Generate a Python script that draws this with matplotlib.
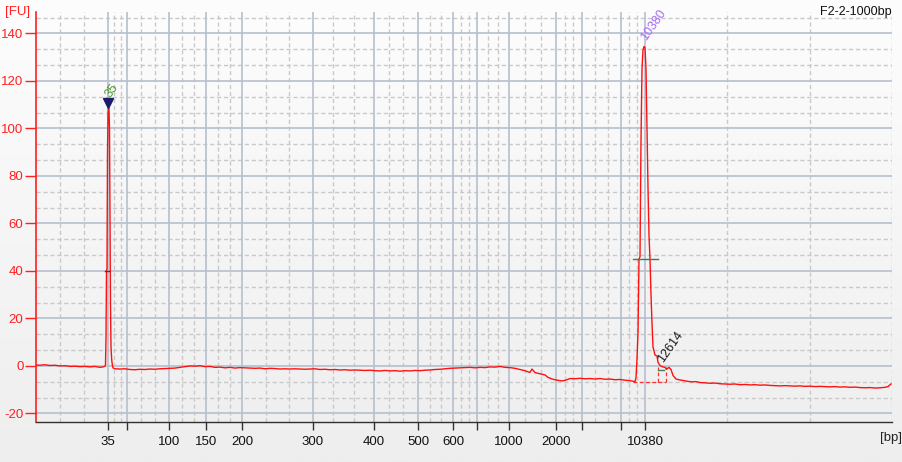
import numpy as np
import matplotlib
matplotlib.use("Agg")
import matplotlib.pyplot as plt
from matplotlib.colors import LinearSegmentedColormap

# ---------------- data ----------------
# ladder sizes (bp) and their migration positions (time units)
ladder_bp = [35, 50, 100, 150, 200, 300, 400, 500, 600, 700, 1000, 2000, 3000, 7000, 10380]
ladder_pos = [72, 91, 133.5, 170.5, 206.5, 277, 338, 382, 417, 441, 473, 520.5, 546, 585, 609]
ladder_labels = ["35", "", "100", "150", "200", "300", "400", "500", "600", "", "1000", "2000", "", "", "10380"]

# electropherogram trace: migration time units vs fluorescence [FU]
trace_t = [0, 4, 9, 14, 19, 24, 29, 34, 39, 44, 49, 54, 59, 64, 67, 69,
           69.5, 70, 70.5, 71, 71.5, 72, 72.5, 73, 73.5, 74, 74.5, 75, 75.7, 76.5, 77,
           79, 84, 89, 94, 99, 104, 109, 114, 119, 124, 129, 134, 139, 144, 149, 154,
           159, 164, 169, 174, 179, 184, 189, 194, 199, 204, 209, 214, 219, 224, 229,
           234, 239, 244, 249, 254, 259, 264, 269, 274, 279, 284, 289, 294, 299, 304,
           309, 314, 319, 324, 329, 334, 339, 344, 349, 354, 359, 364, 369, 374, 379,
           384, 389, 394, 399, 404, 409, 414, 419, 424, 429, 434, 439, 444, 449, 454,
           459, 464, 469, 474, 479, 484, 489, 492, 494, 496, 499, 504, 509, 512, 516,
           521, 526, 529, 534, 539, 544, 549, 554, 559, 564, 569, 574, 579, 584, 589,
           594, 598,
           599, 600, 601, 602, 603, 604, 605, 606, 607, 608, 609, 610, 611, 612, 613,
           614, 615, 616, 617, 619, 621, 622, 624, 626, 629, 630.5, 632, 633, 635, 637,
           640, 644, 648, 652, 656, 660, 664, 669, 674, 679, 684, 689, 694, 699, 704,
           709, 714, 719, 724, 729, 734, 739, 744, 749, 754, 759, 764, 769, 774, 779,
           784, 789, 794, 799, 804, 809, 814, 819, 824, 829, 834, 839, 844, 849, 852, 855]
trace_fu = [0.4, 0.3, 0.5, 0.2, 0.3, 0.0, 0.1, -0.2, -0.1, -0.3, -0.2, -0.4, -0.2, -0.6, -0.4, -0.1,
            0.5, 12, 40, 41, 90, 106, 108.6, 108, 100, 60, 25, 8, 2.5, 0, -0.8,
            -1.2, -1.3, -1.2, -1.5, -1.6, -1.4, -1.5, -1.3, -1.4, -1.2, -1.1, -1.0, -0.9, -0.6, -0.3, 0.0,
            -0.1, 0.1, -0.3, -0.2, -0.6, -0.5, -0.8, -0.6, -0.9, -0.7, -0.8, -0.9, -1.0, -0.9, -1.2,
            -1.0, -1.1, -1.3, -1.2, -1.3, -1.2, -1.3, -1.4, -1.3, -1.2, -1.5, -1.4, -1.6, -1.5, -1.7,
            -1.6, -1.8, -1.7, -1.8, -1.9, -1.8, -2.0, -2.1, -1.9, -2.1, -2.0, -2.2, -2.0, -2.1, -1.9,
            -2.0, -1.8, -1.7, -1.5, -1.4, -1.2, -1.0, -0.9, -0.8, -0.7, -0.6, -0.8, -0.6, -0.7, -0.4,
            -0.5, -0.2, -0.6, -0.7, -1.0, -1.5, -2.0, -2.5, -2.7, -1.3, -2.8, -3.3, -3.8, -4.8, -5.5,
            -6.0, -6.3, -6.1, -5.3, -5.4, -5.2, -5.4, -5.3, -5.5, -5.3, -5.6, -5.5, -5.8, -5.7, -6.0,
            -6.2, -6.5,
            -6.6, -5.0, 3, 14, 45, 46, 95, 125, 133, 134.5, 134, 125, 100, 75, 55,
            45, 30, 18, 8, 4.6, 4.2, 1.5, 0.2, -0.3, -0.6, -1.4, -0.9, -0.6, -1.5, -4.0,
            -5.5, -5.9, -6.2, -6.5, -6.7, -6.6, -7.0, -7.1, -7.3, -7.2, -7.5, -7.6, -7.7, -7.6, -7.9,
            -7.8, -8.0, -7.9, -8.1, -8.0, -8.2, -8.3, -8.4, -8.3, -8.4, -8.5, -8.4, -8.6, -8.5, -8.7,
            -8.6, -8.7, -8.8, -8.7, -8.9, -8.8, -9.0, -8.9, -9.1, -9.2, -9.1, -9.3, -9.2, -9.0, -8.7, -7.6]

# peak annotations
peak_labels = ["35", "10380", "12614"]
peak_label_t = [77, 613, 630]
peak_label_fu = [112, 136, 0.5]
peak_label_colors = ["#4a9a2a", "#a36cf5", "#1a1a1a"]

marker_t = 72
marker_fu = 110.6

sample_name = "F2-2-1000bp"

# ---------------- figure ----------------
W, H = 903, 462
fig = plt.figure(figsize=(W / 100, H / 100), dpi=100)
plt.rcParams['font.family'] = ['Liberation Sans', 'DejaVu Sans']

# gradient background
bg = fig.add_axes([0, 0, 1, 1], zorder=-10)
cmap = LinearSegmentedColormap.from_list("bgc", ["#fdfdfd", "#eeeeee"])
grad = np.linspace(0, 1, 256).reshape(-1, 1)
bg.imshow(grad, aspect='auto', cmap=cmap, extent=[0, 1, 0, 1])
bg.set_axis_off()

ax = fig.add_axes([36 / W, 1 - 422 / H, (892 - 36) / W, (422 - 12) / H])
ax.set_facecolor('none')
xmin, xmax = 0, 856
ymin, ymax = -23.6, 149.0
ax.set_xlim(xmin, xmax)
ax.set_ylim(ymin, ymax)

# grid: solid at ladder / 20 FU, dashed at thirds in between
major_col = '#b7bfcf'
minor_col = '#c9c9c9'
bounds = [xmin] + list(ladder_pos) + [xmax]
for a, b in zip(bounds[:-1], bounds[1:]):
    for k in (1, 2):
        ax.axvline(a + (b - a) * k / 3, color=minor_col, lw=1.0, ls=(0, (3, 2)), zorder=1)
ax.axvline(xmax, color=minor_col, lw=1.0, ls=(0, (3, 2)), zorder=1)
for p in ladder_pos:
    ax.axvline(p, color=major_col, lw=1.2, zorder=1.5)
ymaj = list(range(-20, 141, 20))
for yv in np.arange(-20, 150, 20 / 3):
    if min(abs(yv - m) for m in ymaj) > 0.5:
        ax.axhline(yv, color=minor_col, lw=1.0, ls=(0, (3, 2)), zorder=1)
for yv in ymaj:
    ax.axhline(yv, color=major_col, lw=1.2, zorder=1.5)

# trace
ax.plot(trace_t, trace_fu, color='#ff1010', lw=1.0, zorder=5)

# integration baseline for upper marker region
ax.plot([597, 630.5], [-6.6, -6.6], color='#ff3030', lw=0.9, ls=(0, (3, 2)), zorder=4)
ax.plot([622, 622], [-6.6, -0.4], color='#ff3030', lw=0.9, ls=(0, (3, 2)), zorder=4)
ax.plot([630, 630], [-6.6, -0.4], color='#ff3030', lw=0.9, ls=(0, (3, 2)), zorder=4)
# half-height markers
ax.plot([597, 622], [45, 45], color='#3b7d5c', lw=1.0, zorder=6)
ax.plot([622.5, 628.5], [-1.5, -1.5], color='#3b7d5c', lw=1.0, zorder=6)
ax.plot([69, 73], [40, 40], color='#404040', lw=1.0, zorder=6)

# lower marker triangle
ax.plot([marker_t], [marker_fu], marker='v', color='#1c1c6a', ms=7, zorder=7, ls='none')

for lab, tx, fy, c in zip(peak_labels, peak_label_t, peak_label_fu, peak_label_colors):
    ax.text(tx, fy, lab, color=c, fontsize=9, rotation=55, rotation_mode='anchor',
            ha='left', va='bottom', zorder=8)

# axes styling
for s in ('top', 'right'):
    ax.spines[s].set_visible(False)
ax.spines['left'].set_color('#ff2020')
ax.spines['left'].set_linewidth(1.2)
ax.spines['bottom'].set_color('#303030')
ax.spines['bottom'].set_linewidth(1.0)
ax.spines['left'].set_zorder(9)
ax.spines['bottom'].set_zorder(9)

ax.set_yticks(ymaj)
ax.set_yticklabels([str(v) for v in ymaj])
ax.tick_params(axis='y', colors='#ff2020', labelcolor='#ff2020', length=8, width=1.0,
               labelsize=9.5, pad=1)
ax.set_xticks(ladder_pos)
ax.set_xticklabels(ladder_labels)
ax.tick_params(axis='x', colors='#303030', labelcolor='#111111', length=6, width=1.0,
               labelsize=9.5, pad=4)

fig.text(5 / W, 1 - 12 / H, "[FU]", color='#ff2020', fontsize=9.5, ha='left', va='center')
fig.text(902 / W, 1 - 438 / H, "[bp]", color='#222222', fontsize=9.5, ha='right', va='center')
fig.text(892 / W, 1 - 12 / H, sample_name, color='#111111', fontsize=9, ha='right', va='center')

fig.savefig("out.png", dpi=100)
